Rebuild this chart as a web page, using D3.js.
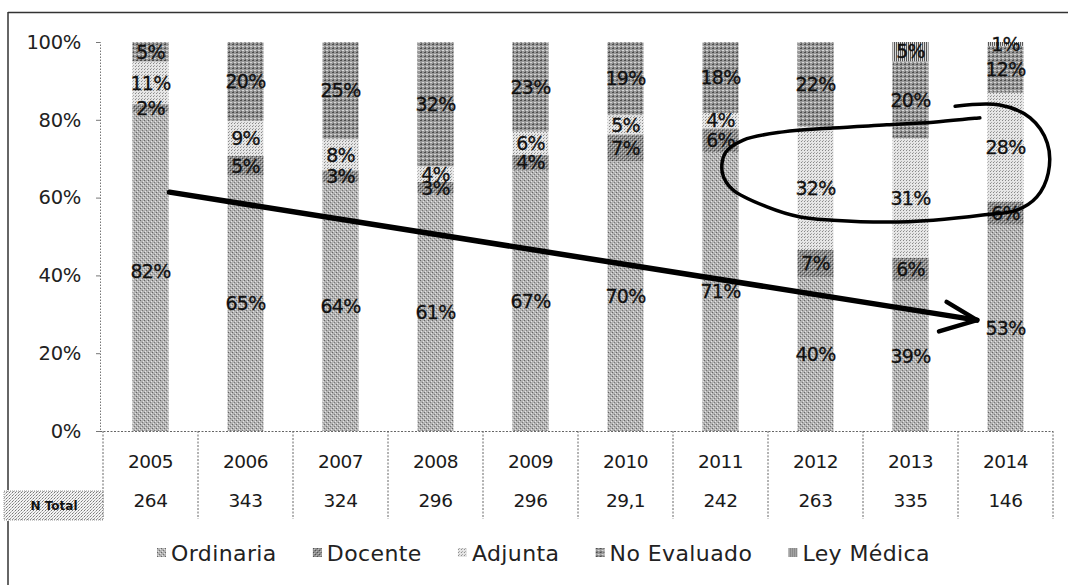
<!DOCTYPE html>
<html>
<head>
<meta charset="utf-8">
<script src="https://cdn.jsdelivr.net/npm/d3@7.9.0/dist/d3.min.js"></script>
<style>
  html, body { margin: 0; padding: 0; background: #fff; }
  svg { display: block; font-family: 'DejaVu Sans', sans-serif; }
</style>
</head>
<body>
<svg id="chart" width="1068" height="585"></svg>
<script>
// === Data ===
const years = ['2005', '2006', '2007', '2008', '2009', '2010', '2011', '2012', '2013', '2014'];
const nTotal = ['264', '343', '324', '296', '296', '29,1', '242', '263', '335', '146'];

const ordinaria  = [82, 65, 64, 61, 67, 70, 71, 40, 39, 53];
const docente    = [2, 5, 3, 3, 4, 7, 6, 7, 6, 6];
const adjunta    = [11, 9, 8, 4, 6, 5, 4, 32, 31, 28];
const noEvaluado = [5, 20, 25, 32, 23, 19, 18, 22, 20, 12];
const leyMedica  = [0, 0, 0, 0, 0, 0, 0, 0, 5, 1];

const seriesNames = ['Ordinaria', 'Docente', 'Adjunta', 'No Evaluado', 'Ley Médica'];
const seriesValues = [ordinaria, docente, adjunta, noEvaluado, leyMedica];

const yTicks = [0, 0.2, 0.4, 0.6, 0.8, 1];

// hand drawn marks on the scan, as [year index, percent]
const arrowLine = [[0.2, 61.4], [8.7, 28.5]];
const arrowHead = [[8.38, 33.2], [8.7, 28.5], [8.3, 25.6]];
const loopPoints = [
  [8.47, 83.5], [8.94, 83.8], [9.26, 80.5], [9.44, 74.0], [9.45, 66.3], [9.33, 60.2],
  [9.12, 56.8], [8.76, 55.5], [8.24, 54.2], [7.75, 53.7], [7.18, 54.2], [6.84, 55.0],
  [6.49, 57.6], [6.13, 62.0], [6.02, 66.3], [6.05, 71.5], [6.24, 74.8], [6.66, 76.9],
  [7.18, 77.9], [7.75, 78.7], [8.24, 79.4], [8.73, 80.5]
];

// build table rows for d3.stack
const rows = years.map((yr, i) => {
  const row = { year: yr };
  seriesNames.forEach((s, k) => { row[s] = seriesValues[k][i]; });
  return row;
});

// === Layout ===
const svg = d3.select('#chart');
const plotLeft = 103, plotRight = 1053, plotTop = 42, plotBottom = 431;

const x = d3.scaleBand().domain(years).range([plotLeft, plotRight])
  .paddingInner(0.62).paddingOuter(0.31);
const y = d3.scaleLinear().domain([0, 1]).range([plotBottom, plotTop]);
const step = x.step();
const center = (yr) => x(yr) + x.bandwidth() / 2;
const xi = d3.scaleLinear().domain([0, years.length - 1])
  .range([center(years[0]), center(years[years.length - 1])]);

// === Grey scan-like patterns ===
const defs = svg.append('defs');
function addPattern(id, size, bg, dots) {
  const p = defs.append('pattern').attr('id', id)
    .attr('width', size).attr('height', size).attr('patternUnits', 'userSpaceOnUse');
  p.append('rect').attr('width', size).attr('height', size).attr('fill', bg);
  dots.forEach(([dx, dy, c, w, h]) => {
    p.append('rect').attr('x', dx).attr('y', dy)
      .attr('width', w || 1).attr('height', h || 1).attr('fill', c);
  });
}
addPattern('p0', 4, '#b2b2b2', [[0, 0, '#666'], [2, 2, '#777'], [1, 3, '#e4e4e4'], [3, 1, '#e4e4e4']]);
addPattern('p1', 4, '#8c8c8c', [[0, 0, '#474747'], [2, 2, '#474747'], [1, 1, '#c6c6c6'], [3, 3, '#c6c6c6']]);
addPattern('p2', 3, '#e6e6e6', [[0, 0, '#888'], [1, 2, '#aaa']]);
addPattern('p3', 4, '#999', [[0, 0, '#4e4e4e', 2, 1], [2, 2, '#d6d6d6', 2, 1], [1, 3, '#666']]);
addPattern('p4', 2, '#d8d8d8', [[0, 0, '#555', 1, 2]]);
addPattern('pBox', 3, '#f4f4f4', [[0, 0, '#777'], [1, 2, '#999'], [2, 1, '#bbb']]);

// === Chart frame (only top and left edge visible on the scan) ===
svg.append('line').attr('x1', 8).attr('x2', 1068).attr('y1', 12.5).attr('y2', 12.5)
  .attr('stroke', '#333').attr('stroke-width', 1.5);
svg.append('line').attr('x1', 8).attr('x2', 8).attr('y1', 12).attr('y2', 490)
  .attr('stroke', '#333').attr('stroke-width', 1.5);
svg.append('line').attr('x1', 8).attr('x2', 8).attr('y1', 521).attr('y2', 585)
  .attr('stroke', '#333').attr('stroke-width', 1.5);

// === Stacked bars (100% stacked) ===
const stack = d3.stack().keys(seriesNames).offset(d3.stackOffsetExpand);
const stacked = stack(rows);

const layers = svg.append('g').selectAll('g')
  .data(stacked).join('g')
  .attr('fill', (d, i) => `url(#p${i})`);

layers.selectAll('rect')
  .data(d => d).join('rect')
  .attr('x', d => x(d.data.year))
  .attr('width', x.bandwidth())
  .attr('y', d => y(d[1]))
  .attr('height', d => y(d[0]) - y(d[1]));

// value labels
const labelG = svg.append('g').attr('font-size', 19).attr('fill', '#111')
  .attr('stroke', '#111').attr('stroke-width', 0.3)
  .attr('text-anchor', 'middle').attr('letter-spacing', -0.8);
stacked.forEach((layer, k) => {
  layer.forEach(d => {
    const v = seriesValues[k][years.indexOf(d.data.year)];
    if (!v) return;
    labelG.append('text')
      .attr('x', center(d.data.year))
      .attr('y', y((d[0] + d[1]) / 2))
      .attr('dy', '0.36em')
      .text(v + '%');
  });
});

// === Y axis ===
const yAxis = svg.append('g').attr('transform', `translate(${plotLeft - 3},0)`)
  .call(d3.axisLeft(y).tickValues(yTicks).tickFormat(d3.format('.0%')).tickSize(4).tickPadding(15));
yAxis.select('.domain').attr('stroke', '#777').attr('stroke-dasharray', '1.5,1.5');
yAxis.selectAll('.tick line').attr('stroke', '#777');
yAxis.selectAll('.tick text').attr('font-size', 19.5).attr('fill', '#222')
  .attr('font-family', 'DejaVu Sans').attr('letter-spacing', -0.3);

// === Data table under the axis ===
const table = svg.append('g');
table.append('line').attr('x1', plotLeft - 3).attr('x2', plotRight)
  .attr('y1', plotBottom + 0.5).attr('y2', plotBottom + 0.5)
  .attr('stroke', '#666').attr('stroke-dasharray', '2,1.5');
d3.range(years.length + 1).forEach(i => {
  const xx = plotLeft + i * step;
  table.append('line').attr('x1', xx).attr('x2', xx)
    .attr('y1', plotBottom).attr('y2', 519)
    .attr('stroke', '#666').attr('stroke-dasharray', '2,1.5');
});
table.selectAll('text.yr').data(years).join('text')
  .attr('class', 'yr')
  .attr('x', d => center(d)).attr('y', 461).attr('dy', '0.36em')
  .attr('text-anchor', 'middle').attr('font-size', 18.5).attr('fill', '#1a1a1a')
  .attr('letter-spacing', -0.5)
  .text(d => d);
table.selectAll('text.nt').data(nTotal).join('text')
  .attr('class', 'nt')
  .attr('x', (d, i) => center(years[i])).attr('y', 500).attr('dy', '0.36em')
  .attr('text-anchor', 'middle').attr('font-size', 18.5).attr('fill', '#1a1a1a')
  .attr('letter-spacing', -0.5)
  .text(d => d);

// "N Total" row header
table.append('rect').attr('x', 4).attr('y', 491).attr('width', plotLeft - 4).attr('height', 29)
  .attr('fill', 'url(#pBox)').attr('stroke', '#999').attr('stroke-dasharray', '1,1');
table.append('text').attr('x', 54).attr('y', 506).attr('dy', '0.36em')
  .attr('text-anchor', 'middle').attr('font-size', 12).attr('font-weight', 'bold')
  .attr('fill', '#111').text('N Total');

// === Legend (items spread evenly between the scan's ends) ===
const legendStart = 157, legendEnd = 930, legendY = 553;
const legend = svg.append('g');
const items = seriesNames.map((s, i) => {
  const g = legend.append('g');
  g.append('rect').attr('y', legendY - 5).attr('width', 9).attr('height', 9)
    .attr('fill', `url(#p${i})`);
  const t = g.append('text').attr('x', 14).attr('y', legendY).attr('dy', '0.36em')
    .attr('font-size', 22).attr('fill', '#222').attr('letter-spacing', 0.4)
    .text(s);
  return { g, w: 14 + t.node().getComputedTextLength() };
});
const usedW = d3.sum(items, d => d.w);
const gap = (legendEnd - legendStart - usedW) / (items.length - 1);
let lx = legendStart;
items.forEach(it => {
  it.g.attr('transform', `translate(${lx},0)`);
  lx += it.w + gap;
});

// === Hand drawn annotations ===
const pen = d3.line().x(d => xi(d[0])).y(d => y(d[1] / 100));
svg.append('path').attr('d', pen(arrowLine))
  .attr('fill', 'none').attr('stroke', '#000').attr('stroke-width', 5.5).attr('stroke-linecap', 'round');
svg.append('path').attr('d', pen(arrowHead))
  .attr('fill', 'none').attr('stroke', '#000').attr('stroke-width', 4.5)
  .attr('stroke-linejoin', 'round').attr('stroke-linecap', 'round');
svg.append('path').attr('d', pen.curve(d3.curveCatmullRom)(loopPoints))
  .attr('fill', 'none').attr('stroke', '#000').attr('stroke-width', 3.5).attr('stroke-linecap', 'round');
</script>
</body>
</html>
